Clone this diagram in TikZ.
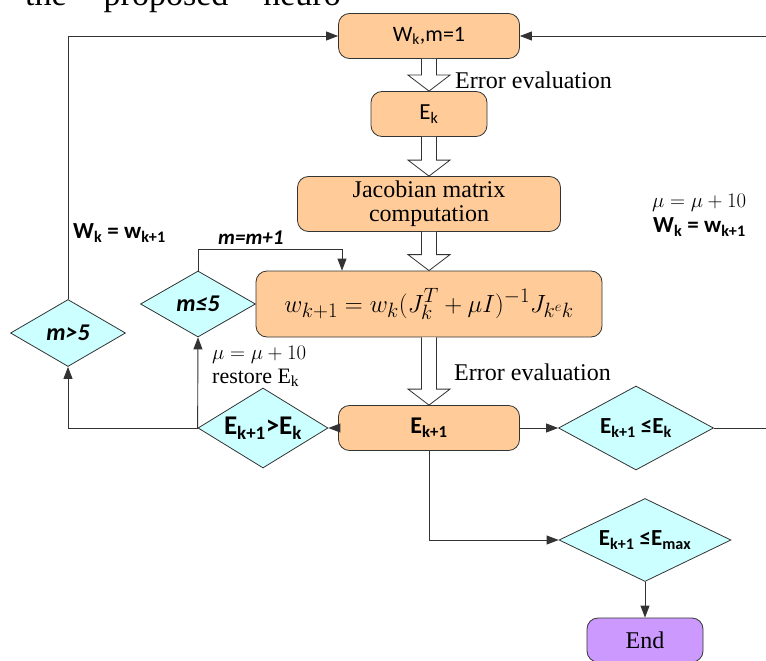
\documentclass[tikz,border=0pt]{standalone}
\usepackage{fontspec}
\setmainfont{Liberation Serif}
\newfontfamily\carlito{Carlito}
\usetikzlibrary{shapes.geometric,arrows.meta,calc}

\definecolor{boxorange}{HTML}{FFCC99}
\definecolor{decicyan}{HTML}{CCFFFF}
\definecolor{endpurple}{HTML}{CC99FF}

\tikzset{
  procbox/.style={draw=black!80, fill=boxorange, rounded corners=11pt, line width=0.8pt, inner sep=0pt, align=center},
  decbox/.style={diamond, aspect=1.7, draw=black!80, fill=decicyan, line width=0.8pt, inner sep=0pt, font=\carlito\bfseries\fontsize{23}{25}\selectfont},
  arr/.style={draw=black!80, line width=0.9pt, -{Triangle[length=12pt,width=9pt]}},
  hollow/.style={draw=black!80, line width=0.8pt, fill=white},
  lbl/.style={inner sep=0pt, anchor=west, font=\fontsize{24}{26}\selectfont},
  sanslbl/.style={inner sep=0pt, anchor=west, font=\carlito\bfseries\fontsize{23}{25}\selectfont},
}

% hollow block arrow from #1 down to #2
\newcommand{\fatarrow}[2]{%
  \draw[hollow] let \p1=(#1.south), \p2=(#2.north) in
    (\x1-7.5pt,\y1) -- (\x1-7.5pt,\y2+16pt) -- (\x1-21pt,\y2+16pt) -- (\x1,\y2)
    -- (\x1+21pt,\y2+16pt) -- (\x1+7.5pt,\y2+16pt) -- (\x1+7.5pt,\y1);}

\begin{document}
\begin{tikzpicture}[x=1pt,y=-1pt]
	\useasboundingbox (0,0) rectangle (766,661);
	\node[inner sep=0pt, anchor=base west, font=\fontsize{34}{36}\selectfont] (head) at (25,6) {the\hspace{37pt}proposed\hspace{35pt}neuro};

	\node[procbox, minimum width=181pt, minimum height=45pt, font=\carlito\fontsize{22}{24}\selectfont] (wk) at (429,36) {W\textsubscript{k},m=1};
	\node[procbox, minimum width=116pt, minimum height=45pt, font=\carlito\fontsize{23}{25}\selectfont] (ek) at (429,114) {E\textsubscript{k}};
	\node[procbox, minimum width=263pt, minimum height=55pt, font=\fontsize{24}{24}\selectfont] (jac) at (429,204) {Jacobian matrix\\computation};
	\node[procbox, minimum width=346pt, minimum height=66pt, font=\fontsize{28}{30}\selectfont] (upd) at (429,304) {$w_{k+1} = w_k (J_k^T + \mu I)^{-1} J_{k^{e}k}$};
	\node[procbox, minimum width=181pt, minimum height=45pt, font=\carlito\bfseries\fontsize{24}{26}\selectfont] (ek1) at (429,428) {E\textsubscript{k+1}};
	\node[procbox, fill=endpurple, minimum width=116pt, minimum height=44pt, font=\fontsize{24}{26}\selectfont] (end) at (645,640) {End};

	\node[decbox, minimum width=130pt, minimum height=80pt, font=\carlito\bfseries\fontsize{27}{29}\selectfont] (dgt) at (263,428) {E\textsubscript{k+1}>E\textsubscript{k}};
	\node[decbox, minimum width=155pt, minimum height=84pt] (dle) at (636,428) {E\textsubscript{k+1} ≤E\textsubscript{k}};
	\node[decbox, minimum width=172pt, minimum height=83pt] (dmax) at (645,540) {E\textsubscript{k+1} ≤E\textsubscript{max}};
	\node[decbox, minimum width=115pt, minimum height=66pt, font=\carlito\bfseries\itshape\fontsize{24}{26}\selectfont] (mle) at (198,304) {m≤5};
	\node[decbox, minimum width=115pt, minimum height=67pt, font=\carlito\bfseries\itshape\fontsize{24}{26}\selectfont] (mgt) at (68,333) {m>5};

	\fatarrow{wk}{ek}
	\fatarrow{ek}{jac}
	\fatarrow{jac}{upd}
	\fatarrow{upd}{ek1}

	\node[lbl] (ev1) at (455,80) {Error evaluation};
	\node[lbl] (ev2) at (454,372) {Error evaluation};
	\node[sanslbl, font=\carlito\bfseries\itshape\fontsize{21}{23}\selectfont] (mm) at (218,238) {m=m+1};
	\node[lbl, font=\fontsize{22}{24}\selectfont] (mu1) at (212,355) {$\mu = \mu + 10$};
	\node[lbl, font=\fontsize{22}{24}\selectfont] (rst) at (212,378) {restore E\textsubscript{k}};
	\node[lbl, font=\fontsize{22}{24}\selectfont] (mu2) at (652,203) {$\mu = \mu + 10$};
	\node[sanslbl] (wr) at (653,227) {W\textsubscript{k} = w\textsubscript{k+1}};
	\node[sanslbl] (wl) at (73,233) {W\textsubscript{k} = w\textsubscript{k+1}};

	\coordinate (rim) at (769,36);
	\coordinate (loop) at (342,249);

	\draw[arr] (mgt.north) |- (wk.west);
	\draw[arr] (dle.east) -| (rim) -- (wk.east);
	\draw[arr] (ek1.east) -- (dle.west);
	\draw[arr] (ek1.west) -- (dgt.east);
	\draw[arr] (dgt.west) -| (mgt.south);
	\draw[arr] (dgt.west) -- (mle.south);
	\draw[arr] (mle.north) |- (loop) -- (loop |- upd.north);
	\draw[arr] (ek1.south) |- (dmax.west);
	\draw[arr] (dmax.south) -- (end.north);
\end{tikzpicture}
\end{document}
